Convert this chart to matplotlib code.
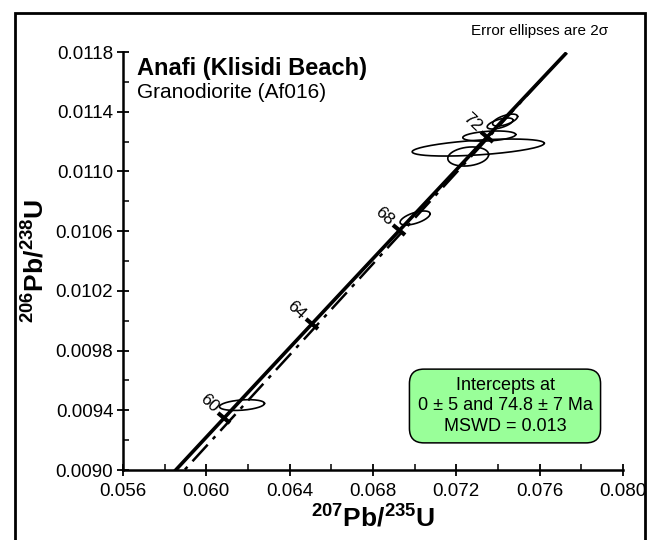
import numpy as np
import matplotlib
matplotlib.use('Agg')
import matplotlib.pyplot as plt
from matplotlib.patches import Rectangle
from matplotlib.markers import MarkerStyle
from matplotlib.transforms import Affine2D

plt.rcParams['font.family'] = ['Liberation Sans', 'DejaVu Sans']
plt.rcParams['mathtext.fontset'] = 'custom'
plt.rcParams['mathtext.rm'] = 'Liberation Sans'
plt.rcParams['mathtext.bf'] = 'Liberation Sans:bold'

# decay constants (1/yr)
L238 = 1.55125e-10
L235 = 9.8485e-10

# concordia range and labelled ages (Ma)
concordia_ages = [57.0, 75.6]
tick_ages = [60, 64, 68, 72]

# discordia intercepts (Ma)
lower_int = 0.0
upper_int = 74.8

# error ellipses: centre 207/235, centre 206/238, half-widths, correlation
ell_x = [0.06171, 0.07002, 0.07305, 0.07257, 0.07358, 0.07410, 0.07434]
ell_y = [0.009435, 0.010688, 0.011160, 0.011100, 0.011237, 0.011321, 0.011344]
ell_sx = [0.00108, 0.00072, 0.00317, 0.00098, 0.00127, 0.00062, 0.00060]
ell_sy = [0.000036, 0.000047, 0.000057, 0.000064, 0.000034, 0.000037, 0.000040]
ell_rho = [0.3, 0.6, 0.5, 0.2, 0.3, 0.6, 0.6]

xticks = [0.056, 0.060, 0.064, 0.068, 0.072, 0.076, 0.080]
yticks = [0.0090, 0.0094, 0.0098, 0.0102, 0.0106, 0.0110, 0.0114, 0.0118]


def ratios(t_ma):
    t = np.asarray(t_ma) * 1e6
    return np.exp(L235 * t) - 1, np.exp(L238 * t) - 1


fig = plt.figure(figsize=(6.53, 5.40), dpi=100)
ax = fig.add_axes([123/653, 1 - 470/540, 500/653, 418/540])
ax.set_xlim(0.056, 0.080)
ax.set_ylim(0.0090, 0.0118)

# outer frame
fig.patches.append(Rectangle((15/653, -0.05), 630/653, 1 - 13/540 + 0.05,
                             transform=fig.transFigure, fill=False, lw=2, ec='black'))

for s in ['top', 'right']:
    ax.spines[s].set_visible(False)
for s in ['left', 'bottom']:
    ax.spines[s].set_linewidth(1.8)

ax.set_xticks(xticks)
ax.set_xticklabels([f'{v:.3f}' for v in xticks])
ax.set_yticks(yticks)
ax.set_yticklabels([f'{v:.4f}' for v in yticks])
ax.set_xticks(np.array(xticks[:-1]) + 0.002, minor=True)
ax.set_yticks(np.array(yticks[:-1]) + 0.0002, minor=True)
ax.tick_params(which='major', direction='inout', length=8, width=1.3, labelsize=13.5, pad=3)
ax.tick_params(which='minor', direction='in', length=4, width=1.1)
ax.tick_params(axis='x', which='major', pad=5)

ax.set_xlabel(r'$\mathbf{^{207}Pb/^{235}U}$', fontsize=19, labelpad=4)
ax.set_ylabel(r'$\mathbf{^{206}Pb/^{238}U}$', fontsize=19, labelpad=5)

# error ellipses
th = np.linspace(0, 2*np.pi, 200)
for cx, cy, sx, sy, r in zip(ell_x, ell_y, ell_sx, ell_sy, ell_rho):
    ex = cx + sx*np.cos(th)
    ey = cy + sy*(r*np.cos(th) + np.sqrt(1 - r**2)*np.sin(th))
    ax.plot(ex, ey, color='black', lw=1.2, zorder=3)

# discordia
dx = np.array([0.0580, ratios(upper_int)[0]])
slope = ratios(upper_int)[1] / ratios(upper_int)[0]
ax.plot(dx, slope*dx, color='black', lw=1.8, linestyle=(0, (9, 3, 1.5, 3)), zorder=4)

# concordia
ages = np.linspace(concordia_ages[0], concordia_ages[1], 100)
cx, cy = ratios(ages)
ax.plot(cx, cy, color='black', lw=2.6, zorder=5, solid_capstyle='butt')

# age ticks and labels
for a in tick_ages:
    x0, y0 = ratios(a)
    x1, y1 = ratios(a + 0.1)
    p0 = ax.transData.transform((x0, y0))
    p1 = ax.transData.transform((x1, y1))
    ang = np.degrees(np.arctan2(p1[1] - p0[1], p1[0] - p0[0]))
    perp = ang + 90
    m = MarkerStyle('_', transform=Affine2D().rotate_deg(perp))
    ax.plot([x0], [y0], marker=m, ms=11, mew=3, color='black', zorder=6)
    off = 15
    ox = off*np.cos(np.radians(perp))
    oy = off*np.sin(np.radians(perp))
    ax.annotate(str(a), (x0, y0), xytext=(ox, oy), textcoords='offset points',
                rotation=perp - 180, ha='center', va='center', fontsize=12.5,
                rotation_mode='anchor', zorder=6)

fig.text(540/653, 1 - 31/540, 'Error ellipses are 2σ', fontsize=11,
         ha='center', va='center')
fig.text(137/653, 1 - 68/540, 'Anafi (Klisidi Beach)', fontsize=17,
         fontweight='bold', ha='left', va='center')
fig.text(137/653, 1 - 92/540, 'Granodiorite (Af016)', fontsize=15,
         ha='left', va='center')

fig.text(505/653, 1 - 406/540, 'Intercepts at\n0 ± 5 and 74.8 ± 7 Ma\nMSWD = 0.013',
         fontsize=13, ha='center', va='center', linespacing=1.25,
         bbox=dict(boxstyle='round,pad=0.45,rounding_size=0.8', fc='#99ff99',
                   ec='black', lw=1.1))

fig.savefig('out.png', dpi=100)
